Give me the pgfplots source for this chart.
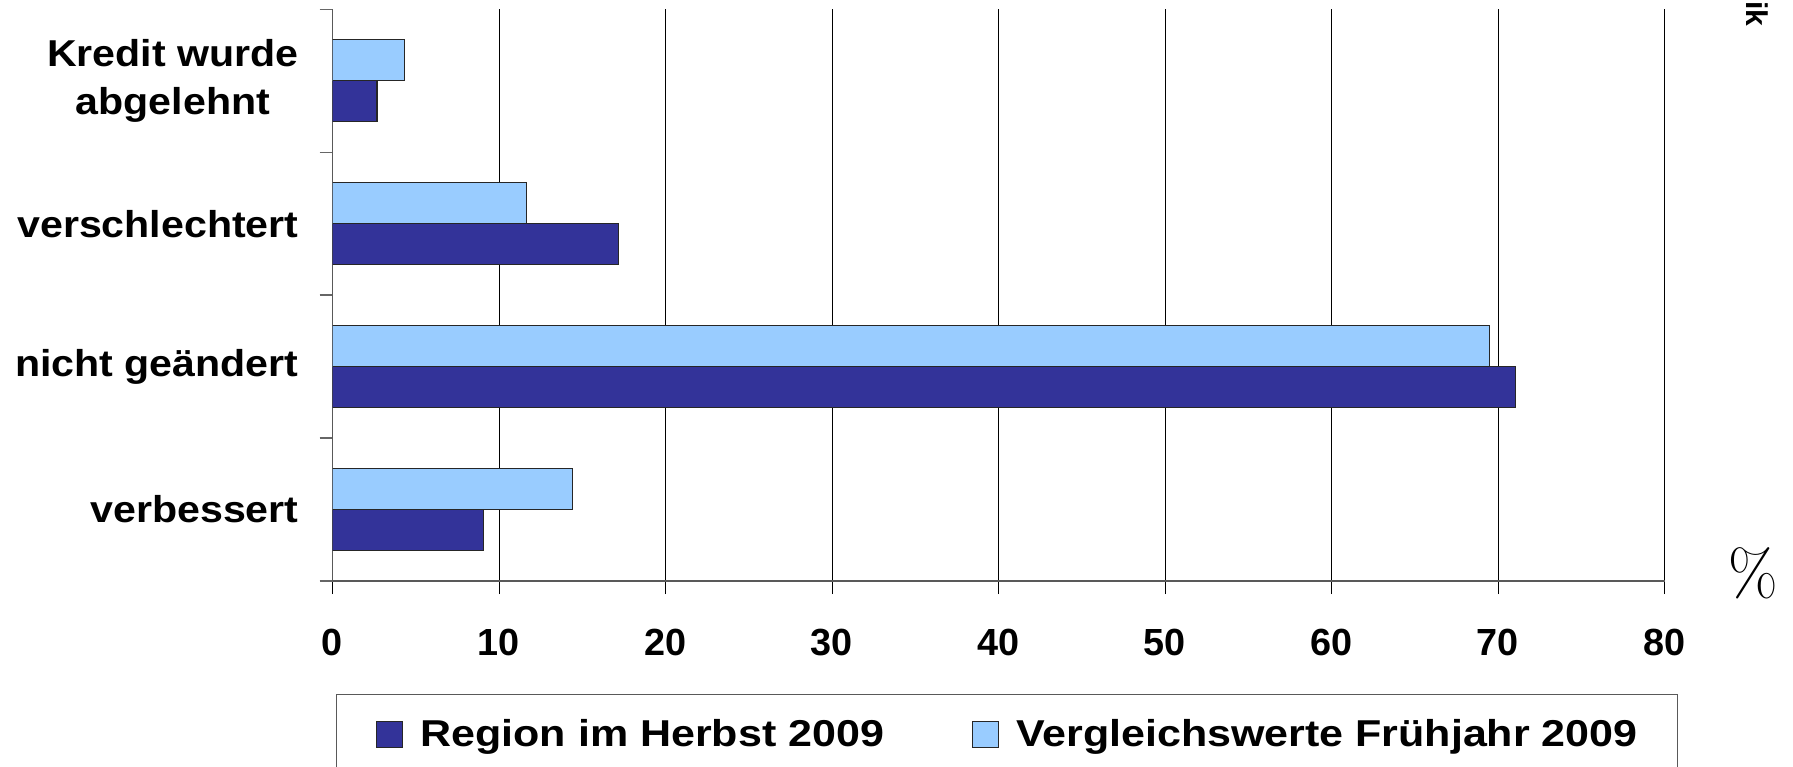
\documentclass[border=0pt]{standalone}
\usepackage{fontspec}
\usepackage{pgfplots}
\pgfplotsset{compat=1.18}
\newfontfamily\arial{Liberation Sans}
\newfontfamily\arialw[FakeStretch=1.1]{Liberation Sans}
\newfontfamily\arialL[FakeStretch=1.15]{Liberation Sans}
\definecolor{darkbar}{HTML}{333399}
\definecolor{lightbar}{HTML}{99CCFF}
\begin{document}
\begin{tikzpicture}
\useasboundingbox (0,0) rectangle (896.5pt,383pt);
\clip (0,0) rectangle (896.5pt,383pt);
\begin{axis}[
  at={(166.25pt,92.5pt)}, anchor=south west,
  scale only axis, width=666pt, height=285.85pt,
  xbar, bar width=20.5pt,
  xmin=0, xmax=80, ymin=-0.5, ymax=3.5,
  axis x line*=bottom, axis y line*=left,
  axis line style={-, draw=black!65, line width=0.7pt},
  tick align=outside, major tick length=6.5pt,
  xtick={0,10,...,80},
  xtick style={black, line width=0.5pt},
  ytick style={black!60, line width=0.7pt},
  xmajorgrids, major grid style={black, line width=0.5pt},
  ytick={-0.5,0.5,1.5,2.5,3.5}, yticklabels={,,,,},
  extra y ticks={0,1,2,3},
  extra y tick labels={verbessert,nicht geändert,verschlechtert,{Kredit wurde\\abgelehnt}},
  extra y tick style={major tick length=0pt, ytick style={draw=none},
    yticklabel style={font=\arialw\bfseries\fontsize{18.7}{24}\selectfont, align=center, anchor=east, inner sep=0pt, xshift=-16.75pt}},
  /pgf/number format/assume math mode=true,
  xticklabel style={font=\arial\bfseries\fontsize{18.9}{20}\selectfont, inner sep=0pt, anchor=north, yshift=-17.5pt},
  legend image code/.code={\draw[#1, line width=0.5pt] (0pt,-6.5pt) rectangle (13pt,6.5pt);},
  legend style={at={(0.0024,-0.1977)}, anchor=north west, legend columns=2,
    draw=black!65, line width=0.7pt,
    font=\arialL\bfseries\fontsize{18.7}{20}\selectfont,
    inner xsep=20pt, inner ysep=12.5pt,
    nodes={inner sep=0pt},
    /tikz/every odd column/.append style={column sep=8.5pt},
    /tikz/every even column/.append style={column sep=44pt}},
  legend cell align=left,
]
\addplot[fill=darkbar, draw=black!85, line width=0.6pt, bar shift=-10.25pt]
  coordinates {(9.08,0) (71.04,1) (17.2,2) (2.67,3)};
\addlegendentry{Region im Herbst 2009}
\addplot[fill=lightbar, draw=black!85, line width=0.6pt, bar shift=10.25pt]
  coordinates {(14.43,0) (69.48,1) (11.64,2) (4.31,3)};
\addlegendentry{Vergleichswerte Frühjahr 2009}
\end{axis}
\node[font=\fontsize{32}{32}\selectfont, inner sep=0pt] at (876.5pt,96.5pt) {\%};
\node[rotate=-90, anchor=base east, font=\arial\bfseries\fontsize{15}{15}\selectfont, inner sep=0pt] at (873.35pt,369.5pt) {ik};
\end{tikzpicture}
\end{document}
